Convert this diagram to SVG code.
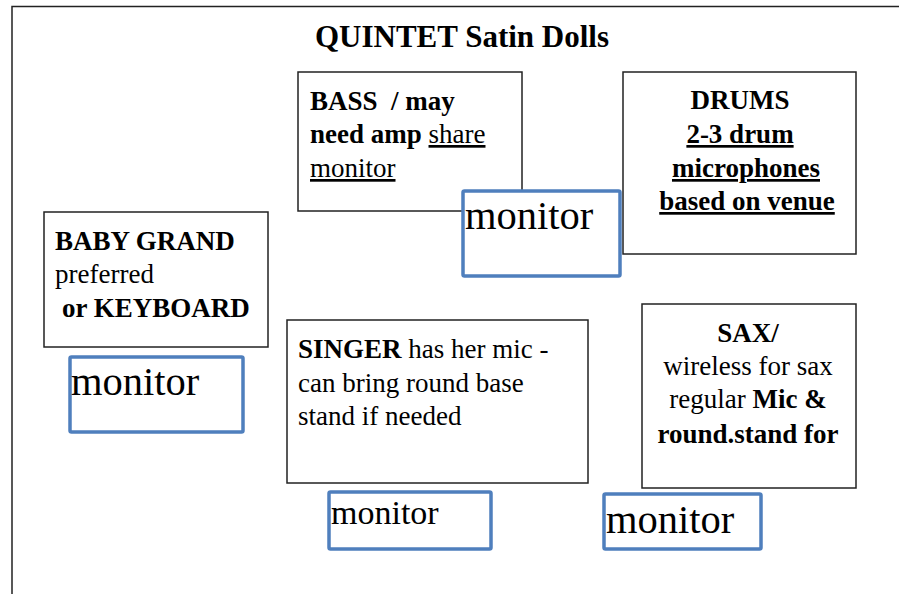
<svg xmlns="http://www.w3.org/2000/svg" width="899" height="594" viewBox="0 0 899 594">
<style>
text{font-family:"Liberation Serif","Times New Roman",serif;fill:#000}
.t{font-size:27px}
.b{font-weight:bold}
.u{text-decoration:underline}
.box{fill:#fff;stroke:#222;stroke-width:1.5}
.mon{fill:#fff;stroke:#4f7fbd;stroke-width:3.5}
.mt{font-size:40.5px}
.c{text-anchor:middle}
</style>
<rect width="899" height="594" fill="#fff"/>
<g id="frame">
<path d="M12 594 V6.5 H899" fill="none" stroke="#222" stroke-width="1.5"/>
</g>
<g id="title">
<text x="462" y="47" class="b c" font-size="31">QUINTET Satin Dolls</text>
</g>
<g id="bass">
<rect class="box" x="298" y="72" width="224" height="139"/>
<text class="t b" x="310" y="110" xml:space="preserve" style="white-space:pre">BASS  / may</text>
<text class="t" x="310" y="143"><tspan class="b">need amp</tspan> <tspan class="u">share</tspan></text>
<text class="t u" x="310" y="177">monitor</text>
</g>
<g id="drums">
<rect class="box" x="623" y="72" width="233" height="182"/>
<text class="t b c" x="740" y="109">DRUMS</text>
<text class="t b c u" x="740" y="143">2-3 drum</text>
<text class="t b c u" x="746" y="177">microphones</text>
<text class="t b c u" x="747" y="210">based on venue</text>
</g>
<g id="bass-monitor">
<rect class="mon" x="463" y="191" width="157" height="85" rx="1.5"/>
<text class="mt" x="465" y="229">monitor</text>
</g>
<g id="piano">
<rect class="box" x="44" y="212" width="224" height="135"/>
<text class="t b" x="55" y="250">BABY GRAND</text>
<text class="t" x="55" y="283">preferred</text>
<text class="t b" x="62" y="317">or KEYBOARD</text>
</g>
<g id="piano-monitor">
<rect class="mon" x="70" y="357" width="173" height="75" rx="1.5"/>
<text class="mt" x="71" y="395">monitor</text>
</g>
<g id="singer">
<rect class="box" x="287" y="320" width="301" height="163"/>
<text class="t" x="298" y="358"><tspan class="b">SINGER</tspan> has her mic -</text>
<text class="t" x="298" y="392">can bring round base</text>
<text class="t" x="298" y="425">stand if needed</text>
</g>
<g id="singer-monitor">
<rect class="mon" x="329" y="492" width="162" height="57" rx="1.5"/>
<text x="331" y="524" font-size="34">monitor</text>
</g>
<g id="sax">
<rect class="box" x="642" y="304" width="214" height="184"/>
<text class="t b c" x="748" y="342">SAX/</text>
<text class="t c" x="748" y="375">wireless for sax</text>
<text class="t c" x="748" y="408">regular <tspan class="b">Mic &amp;</tspan></text>
<text class="t b c" x="748" y="443">round.stand for</text>
</g>
<g id="sax-monitor">
<rect class="mon" x="604" y="494" width="157" height="55" rx="1.5"/>
<text class="mt" x="606" y="533">monitor</text>
</g>
<g id="connectors"></g>
</svg>
